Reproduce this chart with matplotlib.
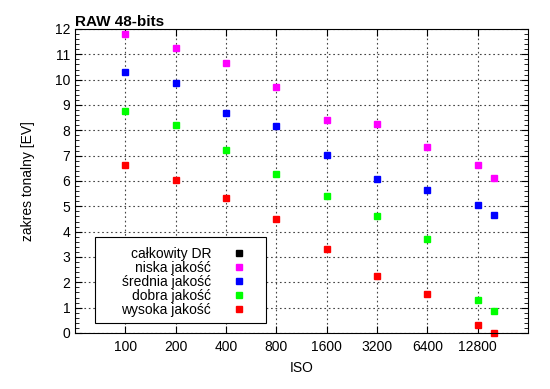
import matplotlib
matplotlib.use("Agg")
import matplotlib.pyplot as plt
from matplotlib.patches import Rectangle
from matplotlib.ticker import FixedLocator, MultipleLocator, NullLocator

plt.rcParams['font.family'] = ['Liberation Sans', 'DejaVu Sans']

# ISO values (last point ~ISO 16000)
iso = [100, 200, 400, 800, 1600, 3200, 6400, 12800, 16000]
iso_ticks = [100, 200, 400, 800, 1600, 3200, 6400, 12800]

calkowity = []  # no points visible in the chart
niska = [11.79, 11.24, 10.67, 9.71, 8.41, 8.24, 7.35, 6.63, 6.12]
srednia = [10.29, 9.87, 8.67, 8.17, 7.04, 6.09, 5.66, 5.04, 4.67]
dobra = [8.78, 8.22, 7.22, 6.29, 5.40, 4.61, 3.71, 1.31, 0.88]
wysoka = [6.64, 6.03, 5.34, 4.50, 3.32, 2.25, 1.53, 0.30, 0.0]

series = [
    ("całkowity DR", calkowity, "#000000"),
    ("niska jakość", niska, "#ff00ff"),
    ("średnia jakość", srednia, "#0000ff"),
    ("dobra jakość", dobra, "#00ff00"),
    ("wysoka jakość", wysoka, "#ff0000"),
]

fig = plt.figure(figsize=(5.5, 3.89), dpi=100)
ax = fig.add_axes([75/550, 1-333/389, 453/550, 304/389])

for name, vals, col in series:
    ax.plot(iso[:len(vals)], vals, ls="none", marker="s", ms=5, color=col,
            label=name, clip_on=False)

ax.set_xscale("log", base=2)
ax.set_xlim(50, 25600)
ax.set_ylim(0, 12)
ax.xaxis.set_major_locator(FixedLocator(iso_ticks))
ax.xaxis.set_minor_locator(NullLocator())
ax.set_xticklabels([str(v) for v in iso_ticks])
ax.yaxis.set_major_locator(MultipleLocator(1))
ax.yaxis.set_minor_locator(MultipleLocator(0.2))

ax.tick_params(which="both", direction="in", top=True, right=True, labelsize=10)
ax.tick_params(which="major", length=5, width=0.8)
ax.tick_params(which="minor", length=3, width=0.6)
ax.tick_params(axis="x", pad=5)
ax.grid(True, which="major", color="#444444", ls=(0, (1.5, 2.5)), lw=0.8)

ax.set_xlabel("ISO", fontsize=10, labelpad=5)
ax.set_ylabel("zakres tonalny [EV]", fontsize=10, labelpad=14)
ax.set_title("RAW 48-bits", fontsize=11, fontweight="bold", loc="left", pad=2)

# legend box
box = Rectangle((0.0442, 0.0329), 0.3775, 0.283, transform=ax.transAxes,
                facecolor="white", edgecolor="black", lw=0.8, zorder=4)
ax.add_patch(box)
leg = ax.legend(loc="lower left", bbox_to_anchor=(0.1024, 0.054), markerfirst=False,
                frameon=False, fontsize=10, handlelength=1.0, handletextpad=1.5,
                labelspacing=0.0, borderpad=0, borderaxespad=0)
leg.set_zorder(5)
for t in leg.get_texts():
    t.set_ha("right")

fig.savefig("out.png", dpi=100)
